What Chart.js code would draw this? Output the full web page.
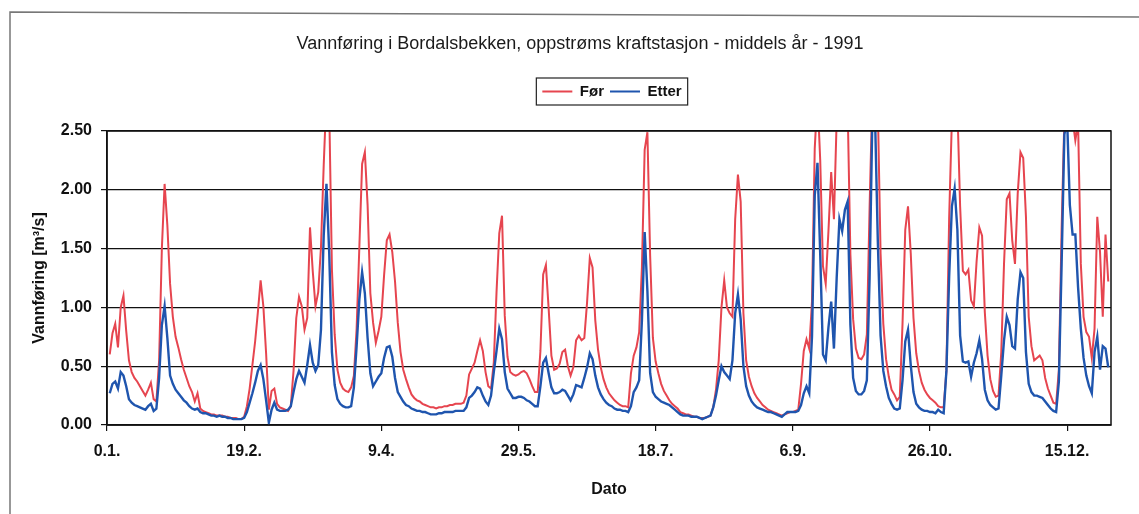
<!DOCTYPE html>
<html>
<head>
<meta charset="utf-8">
<title>Vannføring i Bordalsbekken</title>
<script src="https://cdn.jsdelivr.net/npm/chart.js@4.4.1/dist/chart.umd.min.js"></script>
<style>
  html, body { margin: 0; padding: 0; background: #fff; }
  #wrap { width: 1139px; height: 514px; }
</style>
</head>
<body>
<div id="wrap"><canvas id="flowChart" width="1139" height="514"></canvas></div>
<script>
// Vannføring (m3/s) per dag, 1991 - lest av fra figuren
const foer = [
  0.60, 0.78, 0.86, 0.66, 1.00, 1.10, 0.80, 0.55, 0.45, 0.40,
  0.37, 0.33, 0.29, 0.25, 0.30, 0.36, 0.22, 0.20, 0.55, 1.50,
  2.05, 1.70, 1.20, 0.92, 0.75, 0.66, 0.56, 0.47, 0.40, 0.33,
  0.28, 0.20, 0.27, 0.14, 0.12, 0.11, 0.10, 0.09, 0.09, 0.08,
  0.08, 0.08, 0.07, 0.07, 0.06, 0.06, 0.06, 0.05, 0.05, 0.07,
  0.16, 0.31, 0.51, 0.71, 0.96, 1.23, 1.01, 0.61, 0.13, 0.29,
  0.31, 0.18, 0.15, 0.14, 0.13, 0.12, 0.16, 0.46, 0.91, 1.09,
  1.01, 0.81, 0.91, 1.68, 1.31, 1.01, 1.13, 1.51, 2.21, 2.80,
  2.70, 1.32, 0.77, 0.47, 0.36, 0.31, 0.29, 0.28, 0.32, 0.42,
  0.82, 1.52, 2.22, 2.32, 1.87, 1.12, 0.87, 0.70, 0.80, 0.92,
  1.27, 1.57, 1.62, 1.47, 1.22, 0.87, 0.62, 0.47, 0.39, 0.32,
  0.26, 0.23, 0.21, 0.20, 0.18, 0.17, 0.16, 0.15, 0.15, 0.14,
  0.15, 0.15, 0.16, 0.16, 0.17, 0.17, 0.18, 0.18, 0.18, 0.19,
  0.25, 0.43, 0.48, 0.53, 0.63, 0.72, 0.63, 0.45, 0.33, 0.31,
  0.53, 1.13, 1.63, 1.78, 0.93, 0.58, 0.45, 0.43, 0.42, 0.43,
  0.45, 0.46, 0.44, 0.39, 0.33, 0.28, 0.28, 0.63, 1.28, 1.36,
  0.99, 0.59, 0.47, 0.48, 0.52, 0.62, 0.64, 0.50, 0.42, 0.49,
  0.72, 0.76, 0.72, 0.74, 1.04, 1.42, 1.34, 0.89, 0.64, 0.49,
  0.39, 0.32, 0.27, 0.24, 0.21, 0.19, 0.17, 0.16, 0.16, 0.15,
  0.44, 0.59, 0.66, 0.79, 1.34, 2.34, 2.49, 1.44, 0.74, 0.54,
  0.44, 0.35, 0.29, 0.25, 0.21, 0.18, 0.16, 0.14, 0.11, 0.10,
  0.09, 0.09, 0.08, 0.07, 0.07, 0.06, 0.06, 0.06, 0.07, 0.08,
  0.15, 0.30, 0.55, 1.00, 1.23, 1.00, 0.95, 0.92, 1.75, 2.13,
  1.90, 0.95, 0.55, 0.41, 0.33, 0.27, 0.23, 0.20, 0.17, 0.15,
  0.13, 0.12, 0.11, 0.10, 0.09, 0.08, 0.09, 0.10, 0.11, 0.11,
  0.12, 0.13, 0.35, 0.63, 0.73, 0.65, 1.05, 2.35, 2.80, 2.25,
  1.35, 1.20, 1.65, 2.15, 1.75, 2.60, 2.90, 3.00, 2.90, 2.70,
  1.45, 0.90, 0.65, 0.57, 0.56, 0.60, 0.77, 1.85, 2.80, 3.00,
  2.70, 1.46, 0.86, 0.56, 0.41, 0.30, 0.26, 0.21, 0.24, 0.86,
  1.66, 1.86, 1.46, 0.91, 0.61, 0.46, 0.36, 0.30, 0.26, 0.23,
  0.21, 0.19, 0.16, 0.15, 0.15, 0.46, 1.76, 2.60, 2.90, 2.70,
  1.86, 1.31, 1.28, 1.32, 1.06, 1.01, 1.39, 1.68, 1.61, 0.96,
  0.59, 0.39, 0.29, 0.24, 0.25, 0.62, 1.37, 1.92, 1.97, 1.57,
  1.37, 1.97, 2.32, 2.27, 1.77, 0.92, 0.67, 0.55, 0.57, 0.59,
  0.55, 0.40, 0.31, 0.25, 0.19, 0.18, 0.47, 1.67, 2.60, 2.90,
  2.80, 2.60, 2.42, 2.57, 1.37, 0.92, 0.79, 0.75, 0.57, 0.82,
  1.77, 1.47, 0.92, 1.62, 1.22
];

const etter = [
  0.27, 0.35, 0.37, 0.31, 0.45, 0.42, 0.33, 0.22, 0.19, 0.17,
  0.16, 0.15, 0.14, 0.13, 0.16, 0.18, 0.12, 0.14, 0.40, 0.85,
  1.01, 0.74, 0.42, 0.35, 0.30, 0.27, 0.24, 0.21, 0.19, 0.16,
  0.14, 0.13, 0.14, 0.11, 0.10, 0.10, 0.09, 0.08, 0.08, 0.07,
  0.08, 0.07, 0.07, 0.06, 0.06, 0.05, 0.05, 0.05, 0.05, 0.06,
  0.11, 0.19, 0.27, 0.36, 0.46, 0.51, 0.39, 0.21, 0.02, 0.13,
  0.19, 0.13, 0.12, 0.12, 0.12, 0.13, 0.16, 0.28, 0.39, 0.46,
  0.41, 0.36, 0.51, 0.68, 0.53, 0.46, 0.51, 0.81, 1.61, 2.05,
  1.47, 0.62, 0.34, 0.22, 0.18, 0.16, 0.15, 0.15, 0.16, 0.32,
  0.67, 1.07, 1.30, 1.12, 0.74, 0.44, 0.33, 0.37, 0.41, 0.44,
  0.57, 0.66, 0.67, 0.58, 0.40, 0.28, 0.24, 0.20, 0.17, 0.16,
  0.14, 0.13, 0.12, 0.12, 0.11, 0.11, 0.10, 0.09, 0.09, 0.09,
  0.10, 0.10, 0.11, 0.11, 0.11, 0.11, 0.12, 0.12, 0.12, 0.12,
  0.15, 0.23, 0.25, 0.28, 0.32, 0.31, 0.25, 0.20, 0.17, 0.25,
  0.45, 0.63, 0.82, 0.73, 0.45, 0.31, 0.27, 0.23, 0.23, 0.24,
  0.24, 0.23, 0.21, 0.20, 0.18, 0.16, 0.16, 0.33, 0.53, 0.57,
  0.44, 0.32, 0.27, 0.27, 0.28, 0.30, 0.29, 0.25, 0.21, 0.26,
  0.34, 0.33, 0.32, 0.40, 0.49, 0.61, 0.56, 0.42, 0.32, 0.26,
  0.22, 0.19, 0.17, 0.16, 0.14, 0.13, 0.13, 0.12, 0.12, 0.11,
  0.16, 0.28, 0.32, 0.38, 0.89, 1.64, 1.14, 0.44, 0.28, 0.24,
  0.22, 0.20, 0.19, 0.18, 0.17, 0.15, 0.13, 0.11, 0.09, 0.08,
  0.08, 0.08, 0.07, 0.07, 0.07, 0.06, 0.05, 0.06, 0.07, 0.08,
  0.15, 0.25, 0.38, 0.50, 0.45, 0.42, 0.39, 0.55, 0.95, 1.11,
  0.90, 0.50, 0.33, 0.25, 0.20, 0.17, 0.15, 0.14, 0.13, 0.12,
  0.11, 0.11, 0.10, 0.09, 0.08, 0.07, 0.09, 0.11, 0.11, 0.11,
  0.11, 0.12, 0.17, 0.27, 0.33, 0.27, 0.75, 1.95, 2.23, 1.45,
  0.60, 0.55, 0.83, 1.05, 0.65, 1.25, 1.75, 1.65, 1.83, 1.90,
  0.85, 0.40, 0.29, 0.26, 0.26, 0.29, 0.38, 1.25, 2.60, 2.60,
  1.56, 0.76, 0.46, 0.33, 0.23, 0.18, 0.14, 0.13, 0.14, 0.38,
  0.71, 0.81, 0.51, 0.28, 0.18, 0.15, 0.13, 0.12, 0.12, 0.11,
  0.11, 0.10, 0.13, 0.11, 0.10, 0.46, 1.26, 1.86, 2.01, 1.66,
  0.76, 0.54, 0.53, 0.54, 0.41, 0.53, 0.61, 0.72, 0.56, 0.30,
  0.21, 0.17, 0.15, 0.13, 0.14, 0.42, 0.72, 0.92, 0.85, 0.67,
  0.65, 1.07, 1.30, 1.25, 0.62, 0.35, 0.28, 0.25, 0.25, 0.24,
  0.23, 0.20, 0.17, 0.14, 0.12, 0.11, 0.37, 1.37, 2.47, 2.60,
  1.87, 1.62, 1.62, 1.17, 0.82, 0.57, 0.42, 0.33, 0.27, 0.62,
  0.75, 0.47, 0.67, 0.65, 0.49
];

// dagnummer 1..365
const days = foer.map(function (v, i) { return i + 1; });

// aksetekster hver 50. dag (0, 50, ..., 350)
const tickLabels = ["0.1.", "19.2.", "9.4.", "29.5.", "18.7.", "6.9.", "26.10.", "15.12."];
const yTicks = [0, 0.5, 1.0, 1.5, 2.0, 2.5];

const FONT = "'Liberation Sans', Arial, sans-serif";
const INK = "#111";

// ramme rundt legend + plotområde + arket
const framePlugin = {
  id: "frames",
  afterLayout: function (chart) {
    // tittel og legend står litt til høyre for midten av plotområdet
    const tb = chart.titleBlock;
    tb.left += 14; tb.right += 14;
    const lg = chart.legend;
    lg.left += 46; lg.right += 46;
    lg.top -= 22; lg.bottom -= 22;
  },
  afterDraw: function (chart) {
    const ctx = chart.ctx;
    const a = chart.chartArea;
    ctx.save();
    ctx.strokeStyle = INK;
    ctx.lineWidth = 1.5;
    ctx.strokeRect(a.left, a.top, a.right - a.left, a.bottom - a.top);

    const hb = chart.legend.legendHitBoxes;
    if (hb && hb.length) {
      const last = hb[hb.length - 1];
      const x0 = hb[0].left - 6;
      const x1 = last.left + last.width + 6;
      const y0 = hb[0].top - 6;
      ctx.lineWidth = 1.2;
      ctx.strokeStyle = "#222";
      ctx.strokeRect(x0, y0, x1 - x0, 27);
    }

    ctx.strokeStyle = "#777";
    ctx.lineWidth = 1.5;
    ctx.beginPath();
    ctx.moveTo(10, 514);
    ctx.lineTo(10, 12);
    ctx.lineTo(1139, 17);
    ctx.stroke();
    ctx.restore();
  }
};

function renderFlowChart() {
  const ctx = document.getElementById("flowChart").getContext("2d");
  new Chart(ctx, {
    type: "line",
    data: {
      labels: days,
      datasets: [{
        label: "Før",
        data: foer,
        borderColor: "#e6454f",
        backgroundColor: "#e6454f",
        borderWidth: 2,
        pointRadius: 0,
        tension: 0,
        order: 1
      }, {
        label: "Etter",
        data: etter,
        borderColor: "#1f55ae",
        backgroundColor: "#1f55ae",
        borderWidth: 2.4,
        pointRadius: 0,
        tension: 0,
        order: 0
      }]
    },
    options: {
      responsive: false,
      animation: false,
      devicePixelRatio: 1,
      layout: { padding: { left: 21, right: 28, top: 0, bottom: 0 } },
      plugins: {
        title: {
          display: true,
          text: "Vannføring i Bordalsbekken, oppstrøms kraftstasjon - middels år - 1991",
          color: "#1a1a1a",
          font: { family: FONT, size: 18, weight: "normal" },
          padding: { top: 33, bottom: 45.4 }
        },
        legend: {
          display: true,
          position: "top",
          labels: {
            color: INK,
            font: { family: FONT, size: 15, weight: "bold" },
            boxWidth: 30,
            boxHeight: 2,
            padding: 6,
            sort: function (a, b) { return a.datasetIndex - b.datasetIndex; },
            generateLabels: function (chart) {
              const items = Chart.defaults.plugins.legend.labels.generateLabels(chart);
              items.forEach(function (it) { it.lineWidth = 0; });
              return items;
            }
          }
        },
        tooltip: { enabled: false }
      },
      scales: {
        x: {
          type: "linear",
          min: 0,
          max: 366,
          afterFit: function (scale) { scale.height = 89; },
          grid: { drawOnChartArea: false, drawTicks: true, tickLength: 6, color: INK, lineWidth: 1.2 },
          border: { display: true, color: INK, width: 1.5 },
          ticks: {
            stepSize: 50,
            includeBounds: false,
            autoSkip: false,
            maxRotation: 0,
            padding: 11,
            color: INK,
            font: { family: FONT, size: 16, weight: "bold" },
            callback: function (v) {
              if (v % 50 !== 0) return "";
              return tickLabels[v / 50] || "";
            }
          },
          title: {
            display: true,
            text: "Dato",
            color: INK,
            font: { family: FONT, size: 16, weight: "bold" },
            padding: { top: 0, bottom: 15 }
          }
        },
        y: {
          min: 0,
          max: 2.5,
          afterFit: function (scale) { scale.width = 86; },
          afterBuildTicks: function (scale) {
            scale.ticks = yTicks.map(function (v) { return { value: v }; });
          },
          grid: { color: INK, lineWidth: 1.2, drawTicks: true, tickLength: 6 },
          border: { display: true, color: INK, width: 1.5 },
          ticks: {
            padding: 9,
            color: INK,
            font: { family: FONT, size: 16, weight: "bold" },
            callback: function (v) { return Number(v).toFixed(2); }
          },
          title: {
            display: true,
            text: "Vannføring [m³/s]",
            color: INK,
            font: { family: FONT, size: 16, weight: "bold" },
            padding: { top: 9, bottom: 0 }
          }
        }
      }
    },
    plugins: [framePlugin]
  });
}

document.addEventListener("DOMContentLoaded", function () {
  renderFlowChart();
});
</script>
</body>
</html>
